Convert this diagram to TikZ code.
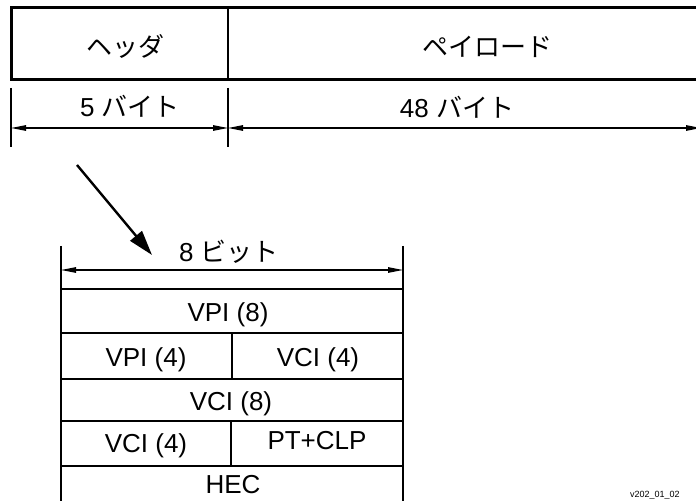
\documentclass[tikz,border=0pt]{standalone}
\usepackage{fontspec}
\setmainfont{Liberation Sans}
\newfontfamily\jp{Noto Sans CJK JP}
\usetikzlibrary{arrows.meta}
\tikzset{
  lbl/.style={inner sep=0pt, font=\fontsize{26bp}{29bp}\selectfont, anchor=base},
  thickline/.style={line width=3bp},
  thinline/.style={line width=1.3bp},
  edgeline/.style={line width=2.2bp},
  dimarrow/.style={line width=1.1bp, {Triangle[length=15bp,width=5.5bp]}-{Triangle[length=15bp,width=5.5bp]}},
  bigarrow/.style={line width=2.4bp, -{Triangle[length=25bp,width=15bp]}},
}
\begin{document}
\begin{tikzpicture}[x=1bp,y=-1bp]
\useasboundingbox (0,0) rectangle (696,501);
\clip (0,0) rectangle (696,501);
% top box
\draw[thickline] (710,8) -- (11,8) -- (11,80) -- (710,80);
\draw[thinline] (228,8) -- (228,80);
\node[lbl] (header) at (125,57) {\jp ヘッダ};
\node[lbl] (payload) at (487,57) {\jp ペイロード};
% byte dimensions
\coordinate (ta) at (11,88); \coordinate (tb) at (11,147);
\coordinate (tc) at (228,88); \coordinate (td) at (228,147);
\draw[thinline] (ta) -- (tb);
\draw[thinline] (tc) -- (td);
\coordinate (da) at (11,128); \coordinate (db) at (228,128); \coordinate (dc) at (701,128);
\draw[dimarrow] (da) -- (db);
\draw[dimarrow] (db) -- (dc);
\node[lbl] (five) at (130,117) {5 {\jp バイト}};
\node[lbl] (fortyeight) at (457,118) {48 {\jp バイト}};
% diagonal arrow
\coordinate (sa) at (77,165); \coordinate (sb) at (152,255);
\draw[bigarrow] (sa) -- (sb);
% lower table
\coordinate (la) at (61,246); \coordinate (lb) at (61,510);
\coordinate (ra) at (403,246); \coordinate (rb) at (403,510);
\draw[edgeline] (la) -- (lb);
\draw[edgeline] (ra) -- (rb);
\coordinate (ba) at (61,270); \coordinate (bb) at (403,270);
\draw[dimarrow] (ba) -- (bb);
\node[lbl] (eight) at (229,262) {8 {\jp ビット}};
\foreach \y in {289,333,379,421,466} \draw[thinline] (61,\y) -- (403,\y);
\draw[thinline] (232,333) -- (232,379);
\draw[thinline] (231,421) -- (231,466);
\node[lbl] (vpia) at (228,321) {VPI (8)};
\node[lbl] (vpib) at (146,366) {VPI (4)};
\node[lbl] (vcia) at (318,366) {VCI (4)};
\node[lbl] (vcib) at (231,410) {VCI (8)};
\node[lbl] (vcic) at (146,452) {VCI (4)};
\node[lbl] (ptclp) at (317,449) {PT+CLP};
\node[lbl] (hec) at (233,493) {HEC};
\node[inner sep=0pt, anchor=base west, font=\fontsize{9bp}{11bp}\selectfont] (code) at (630,497) {v202\_01\_02};
\end{tikzpicture}
\end{document}
